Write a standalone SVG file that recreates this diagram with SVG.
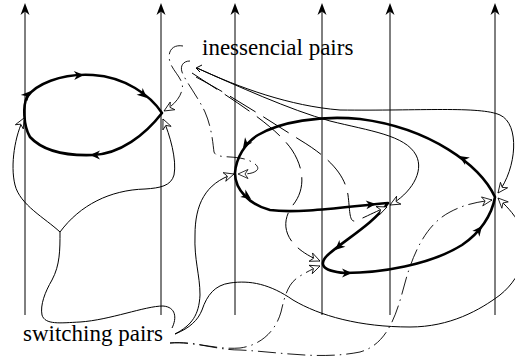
<svg xmlns="http://www.w3.org/2000/svg" width="515" height="364" viewBox="0 0 515 364">
<style>
.ax{stroke:#000;stroke-width:1;fill:none}
.tk{stroke:#000;stroke-width:2.6;fill:none;stroke-linejoin:round}
.th{stroke:#000;stroke-width:1;fill:none}
.ds{stroke:#000;stroke-width:1;fill:none;stroke-dasharray:30 9}
.dd{stroke:#000;stroke-width:0.9;fill:none;stroke-dasharray:18 5 1.5 5}
</style>
<defs>
<path id="up" d="M0,0 L-4.5,12 L0,8.5 L4.5,12 Z" fill="#000"/>
<path id="ta" d="M0,0 L-10,-4.5 L-7,0 L-10,4.5 Z" fill="#000"/>
<marker id="oa" markerUnits="userSpaceOnUse" markerWidth="14" markerHeight="12" refX="11" refY="6" orient="auto" overflow="visible">
<path d="M11,6 L1,1.5 L4,6 L1,10.5 Z" fill="#fff" stroke="#000" stroke-width="0.8"/>
</marker>
</defs>

<g id="axes">
<line class="ax" x1="25" y1="315" x2="25" y2="6"/>
<line class="ax" x1="161" y1="315" x2="161" y2="6"/>
<line class="ax" x1="235" y1="315" x2="235" y2="6"/>
<line class="ax" x1="322" y1="315" x2="322" y2="6"/>
<line class="ax" x1="390" y1="315" x2="390" y2="6"/>
<line class="ax" x1="495" y1="315" x2="495" y2="6"/>
<use href="#up" x="25" y="3"/>
<use href="#up" x="161" y="3"/>
<use href="#up" x="235" y="3"/>
<use href="#up" x="322" y="3"/>
<use href="#up" x="390" y="3"/>
<use href="#up" x="495" y="3"/>
</g>

<g id="left-loop">
<path class="tk" d="M162,113 C150,95 125,77 93,75 C60,73 35,85 27,97 C23,105 23,125 30,137 C42,150 65,156 93,155 C120,154 145,135 162,113 Z"/>
<use href="#ta" transform="translate(84,75) rotate(-3)"/>
<use href="#ta" transform="translate(147,98) rotate(42)"/>
<use href="#ta" transform="translate(90,155) rotate(180)"/>
<use href="#ta" transform="translate(31,91) rotate(-45)"/>
</g>

<g id="right-loop">
<path class="tk" d="M495,197 C480,165 430,128 360,119 C320,115 280,122 258,135 C245,143 236,158 235,173 C235,190 250,205 270,210 C300,214 350,206 388,203 C375,222 345,240 330,253 C318,263 320,271 345,273 C380,273 430,265 462,245 C480,233 492,215 495,197 Z"/>
<use href="#ta" transform="translate(459,156) rotate(-148)"/>
<use href="#ta" transform="translate(243,148) rotate(125)"/>
<use href="#ta" transform="translate(251,199) rotate(35)"/>
<use href="#ta" transform="translate(376,204) rotate(-5)"/>
<use href="#ta" transform="translate(335,250) rotate(138)"/>
<use href="#ta" transform="translate(352,273) rotate(0)"/>
<use href="#ta" transform="translate(482,226) rotate(-52)"/>
</g>

<g id="connectors">
<path class="th" marker-end="url(#oa)" d="M60,232 C45,218 20,205 15,185 C10,165 15,135 24,118"/>
<path class="th" marker-end="url(#oa)" d="M60,232 C80,205 110,190 145,189 C160,188 171,186 174,175 C177,160 170,135 163,119"/>
<path class="th" d="M60,232 C60,250 60,265 52,280 C45,292 40,305 42,315 C45,325 60,323 80,322 C110,320 145,306 163,306 C176,307 177,318 172,328"/>
<path class="th" marker-end="url(#oa)" d="M175,334 C192,325 199,315 200,295 C200,275 194,260 195,235 C195,205 205,183 234,174"/>
<path class="th" marker-end="url(#oa)" d="M175,334 C190,328 198,320 202,310 C207,295 215,285 230,283 C250,280 270,284 293,300 C320,316 360,327 410,327 C450,327 480,310 500,295 C525,275 530,245 520,225 C513,212 505,205 498,198"/>
<path class="th" marker-end="url(#oa)" d="M197,68 C240,88 290,106 340,110 C420,111 480,106 500,115 C520,124 517,168 498,193"/>
<path class="th" marker-end="url(#oa)" d="M197,68 C235,85 290,110 330,121 C370,131 405,135 416,155 C425,172 410,194 390,205"/>
<path class="th" d="M202,65 L196,68 L200,72"/>
<path class="ds" marker-end="url(#oa)" d="M192,73 C230,98 275,125 292,150 C305,170 305,190 293,205 C280,222 282,245 320,261"/>
<path class="ds" marker-end="url(#oa)" d="M196,77 C232,96 268,120 300,140 C330,158 345,175 348,195 C350,210 349,222 355,221 C362,219 372,213 387,207"/>
<path class="dd" marker-end="url(#oa)" d="M183,46 C172,44 167,52 170,62 C173,72 185,80 182,90 C180,98 174,105 164,111"/>
<path class="dd" marker-end="url(#oa)" d="M190,61 C183,61 180,66 182,72 C186,82 198,97 205,112 C212,128 213,145 214,152 C216,158 228,156 240,158 C252,160 262,167 256,171 C252,174 246,174 238,174"/>
<path class="dd" marker-end="url(#oa)" d="M170,343 C195,341 215,350 240,348 C262,345 276,330 281,312 C285,295 288,283 300,276 C307,272 312,269 320,266"/>
<path class="dd" marker-end="url(#oa)" d="M170,343 C195,341 215,350 240,350 C280,352 320,360 360,352 C385,345 395,320 403,290 C412,255 425,225 450,212 C465,204 478,202 492,200"/>
</g>

<g id="labels" font-family="'Liberation Serif', 'Times New Roman', serif" font-size="23" fill="#000">
<text x="202" y="55">inessencial pairs</text>
<text x="23" y="341">switching pairs</text>
</g>
</svg>
